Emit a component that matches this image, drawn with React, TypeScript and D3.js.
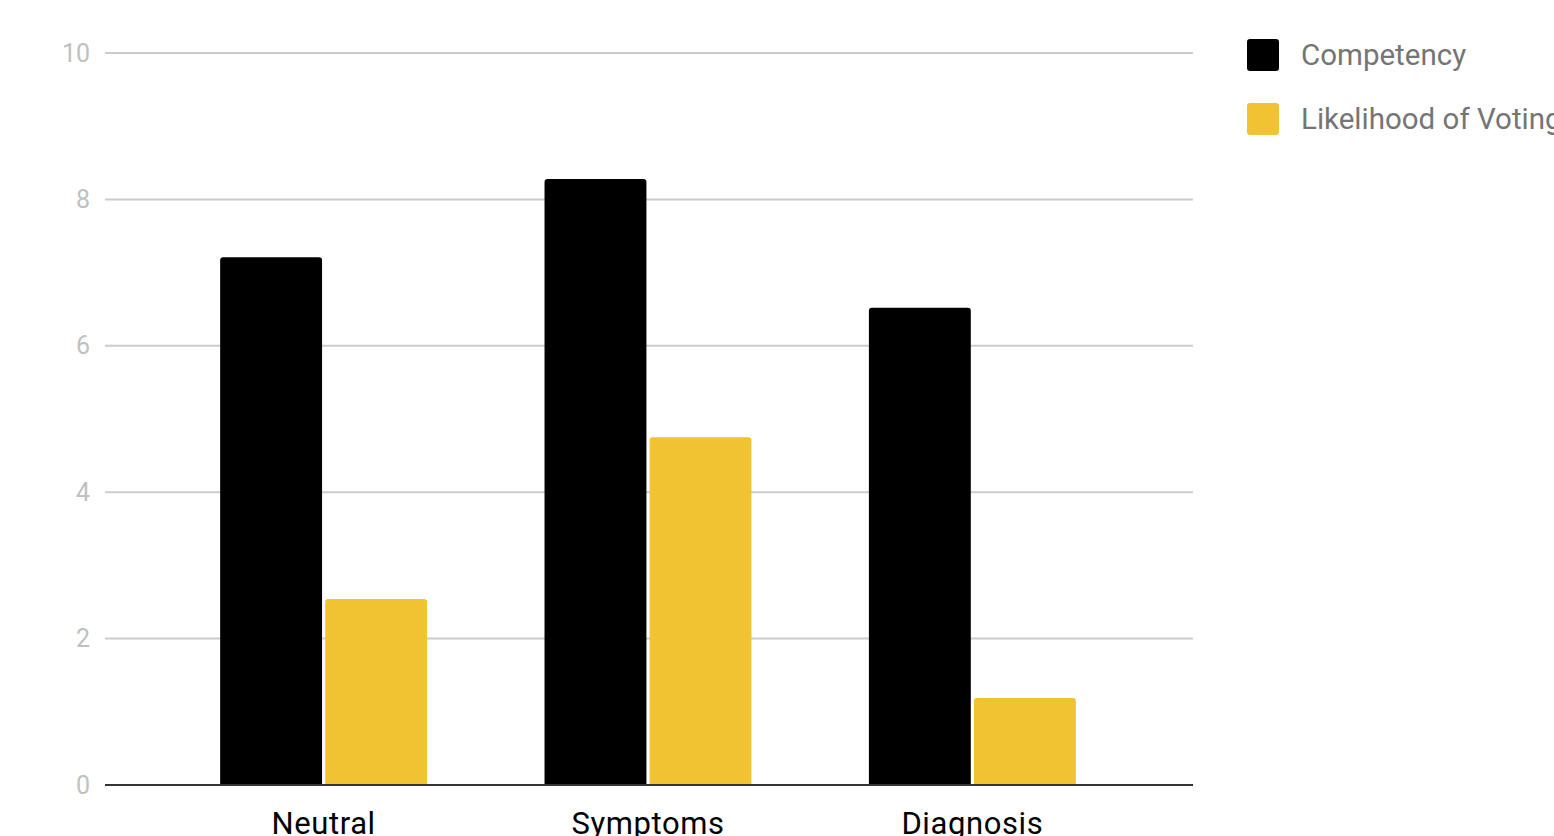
import React from "react";
import * as d3 from "d3";

const categories = ["Neutral", "Symptoms", "Diagnosis"];
const seriesNames = ["Competency", "Likelihood of Voting"];
const competency = [7.21, 8.28, 6.52];
const likelihood = [2.54, 4.75, 1.19];
const yTicks = [0, 2, 4, 6, 8, 10];
const colors = ["#000000", "#f1c232"];

const W = 1554;
const H = 836;
const plotLeft = 105;
const plotRight = 1193;
const plotTop = 53;
const plotBottom = 785;

function topRoundedBar(x: number, y: number, w: number, h: number, r: number) {
  const rr = Math.min(r, h, w / 2);
  const p = d3.path();
  p.moveTo(x, y + h);
  p.lineTo(x, y + rr);
  p.arcTo(x, y, x + rr, y, rr);
  p.lineTo(x + w - rr, y);
  p.arcTo(x + w, y, x + w, y + rr, rr);
  p.lineTo(x + w, y + h);
  p.closePath();
  return p.toString();
}

export default function App() {
  const y = d3.scaleLinear().domain([0, 10]).range([plotBottom, plotTop]);
  const x0 = d3
    .scaleBand<string>()
    .domain(categories)
    .range([plotLeft, plotRight - 2])
    .paddingInner(0.362)
    .paddingOuter(0.355);
  const x1 = d3
    .scaleBand<string>()
    .domain(seriesNames)
    .range([0, x0.bandwidth()])
    .paddingInner(0.03);
  const values = [competency, likelihood];
  const font = "Roboto, 'Noto Sans', sans-serif";

  return (
    <svg
      width={W}
      height={H}
      style={{ position: "absolute", left: 0, top: 0, background: "#fff" }}
    >
      {yTicks.map((t) =>
        t === 0 ? null : (
          <line
            key={"g" + t}
            x1={plotLeft}
            x2={plotRight}
            y1={y(t)}
            y2={y(t)}
            stroke="#cccccc"
            strokeWidth={2}
          />
        )
      )}
      {yTicks.map((t) => (
        <text
          key={"t" + t}
          x={90}
          y={y(t)}
          textAnchor="end"
          dominantBaseline="central"
          fontFamily={font}
          fontSize={25}
          fill="#c0c0c0"
        >
          {t}
        </text>
      ))}
      {categories.map((c, i) => (
        <g key={c} transform={`translate(${x0(c)},0)`}>
          {seriesNames.map((s, j) => {
            const v = values[j][i];
            const bx = x1(s)!;
            return (
              <path
                key={s}
                d={topRoundedBar(bx, y(v), x1.bandwidth(), y(0) - y(v), 3)}
                fill={colors[j]}
              />
            );
          })}
          <text
            x={x0.bandwidth() / 2}
            y={834}
            textAnchor="middle"
            fontFamily={font}
            fontSize={31}
            letterSpacing={0.6}
            fill="#000"
          >
            {c}
          </text>
        </g>
      ))}
      <line
        x1={plotLeft}
        x2={plotRight}
        y1={y(0)}
        y2={y(0)}
        stroke="#333333"
        strokeWidth={2}
      />
      {seriesNames.map((s, j) => (
        <g key={s} transform={`translate(1247,${39 + j * 64})`}>
          <rect width={32} height={32} rx={3} fill={colors[j]} />
          <text
            x={54}
            y={16}
            dominantBaseline="central"
            fontFamily={font}
            fontSize={29.5}
            fill="#757575"
          >
            {s}
          </text>
        </g>
      ))}
    </svg>
  );
}
